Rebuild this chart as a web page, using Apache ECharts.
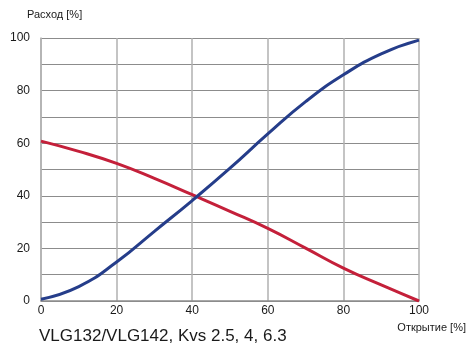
<!DOCTYPE html>
<html>
<head>
<meta charset="utf-8">
<script src="https://cdn.jsdelivr.net/npm/echarts@6/dist/echarts.min.js"></script>
<style>
  html, body { margin:0; padding:0; background:#fff; }
  #chart { width:467px; height:348px; }
</style>
</head>
<body>
<div id="chart"></div>
<script>
// Opening [%] vs flow [%]
const opening  = [0, 10, 20, 30, 40, 50, 60, 70, 80, 90, 100];
const flowBlue = [0.7, 5.5, 14.8, 26.5, 38.2, 50.5, 63.5, 75.8, 86.0, 94.0, 99.2];
const flowRed  = [60.8, 56.9, 52.3, 46.6, 40.4, 34.1, 27.6, 20.1, 12.5, 6.1, 0];
const yLabelStep = 20;

const FONT = "'Liberation Sans', Arial, sans-serif";
const COLORS = { blue:'#253d8a', red:'#c4203a', gridH:'#8c8c8c', gridV:'#b0b0b0', text:'#1a1a1a' };

const chart = echarts.init(document.getElementById('chart'), null, { renderer:'canvas' });
const pair = ys => opening.map((x, i) => [x, ys[i]]);

chart.setOption({
  animation:false,
  backgroundColor:'#fff',
  grid:{ left:41, right:48, top:38, bottom:47 },
  graphic:[
    { type:'text', left:27, top:9, style:{ text:'Расход [%]', font:'11px ' + FONT, fill:COLORS.text } },
    { type:'text', right:1, top:322, style:{ text:'Открытие [%]', font:'11px ' + FONT, fill:COLORS.text } },
    { type:'text', left:39, top:328, style:{ text:'VLG132/VLG142, Kvs 2.5, 4, 6.3', font:'17px ' + FONT, fill:COLORS.text } }
  ],
  xAxis:{
    type:'value', min:0, max:100, interval:20,
    axisLine:{ show:true, lineStyle:{ color:COLORS.gridH, width:1.5 } },
    axisTick:{ show:false },
    axisLabel:{ color:COLORS.text, fontFamily:FONT, fontSize:12, margin:4 },
    splitLine:{ show:true, lineStyle:{ color:COLORS.gridV, width:1.5 } }
  },
  yAxis:{
    type:'value', min:0, max:100, interval:10,
    axisLine:{ show:true, lineStyle:{ color:COLORS.gridV, width:1.5 } },
    axisTick:{ show:false },
    axisLabel:{ color:COLORS.text, fontFamily:FONT, fontSize:12, margin:11,
      formatter:v => v % yLabelStep === 0 ? String(v) : '' },
    splitLine:{ show:true, lineStyle:{ color:COLORS.gridH, width:1.2 } }
  },
  series:[
    { type:'line', data:pair(flowRed), smooth:0.5, showSymbol:false,
      lineStyle:{ color:COLORS.red, width:3 } },
    { type:'line', data:pair(flowBlue), smooth:0.5, showSymbol:false,
      lineStyle:{ color:COLORS.blue, width:3 } }
  ]
});
</script>
</body>
</html>
